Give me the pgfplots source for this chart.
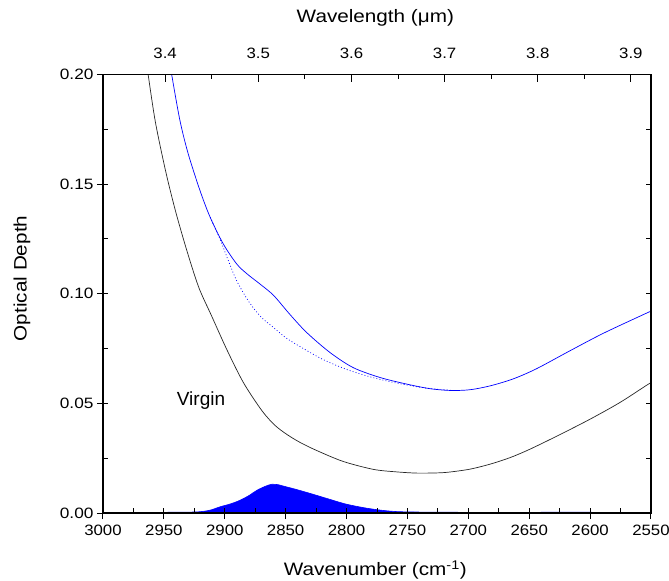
\documentclass[border=0pt]{standalone}
\usepackage{graphicx}
\usepackage{pgfplots}
\pgfplotsset{compat=1.18}
\usepackage{fontspec}
\setmainfont{Liberation Sans}
\newcommand{\tickfont}{\fontsize{15bp}{18bp}\selectfont}
\newcommand{\labfont}{\fontsize{18bp}{21bp}\selectfont}

\pgfplotstableread{
w v
2966 0.212
2962.8 0.1995
2956.9 0.1781
2948.3 0.1553
2940.1 0.1370
2930.6 0.1187
2921.2 0.1027
2910.9 0.0900
2898.2 0.0744
2884.6 0.0594
2869.4 0.0466
2858.8 0.0400
2848.9 0.0358
2838.2 0.0322
2824.5 0.0285
2802.7 0.0235
2778 0.0199
2760 0.0188
2742.4 0.0182
2725 0.0183
2715 0.0187
2698.6 0.0200
2682 0.0223
2666 0.0252
2649.4 0.0291
2625 0.0357
2600 0.0428
2575.5 0.0504
2553.5 0.0583
2550 0.0594
}\virgin

\pgfplotstableread{
w v
2947 0.212
2943.6 0.200
2936.8 0.179
2930 0.1638
2920.3 0.147
2912 0.1349
2901.2 0.1227
2890.2 0.1136
2882 0.1092
2871 0.1044
2860 0.0993
2846.4 0.0905
2832.7 0.0823
2813.6 0.0732
2794.5 0.0663
2772.5 0.0618
2750.6 0.0588
2731.5 0.0567
2715 0.0559
2699 0.0562
2682 0.0580
2663 0.0612
2644 0.0658
2616.5 0.0740
2589 0.0820
2553.5 0.0912
2550 0.0920
}\treated

\pgfplotstableread{
w v
2912 0.1349
2904 0.1250
2897 0.1150
2890 0.1057
2880 0.0962
2870 0.0893
2860 0.0846
2850 0.0800
2840 0.0765
2820 0.0702
2800 0.0655
2780 0.0620
2760 0.0594
2740 0.0574
2725 0.0564
2712 0.0559
}\baseline

\pgfplotstableread{
w v
2950 0.0000
2945 0.0004
2930 0.0004
2920 0.0006
2912 0.0013
2904 0.0028
2895 0.0042
2887.5 0.0058
2880 0.0080
2873.8 0.0103
2867 0.0121
2861.5 0.0131
2856 0.0129
2852 0.0123
2841 0.0107
2827.3 0.0085
2813.6 0.0062
2800 0.0040
2783.5 0.0022
2767 0.0010
2750 0.0005
2700 0.0003
2650 0.0003
2602 0.0004
2600 0.0000
}\band

\begin{document}
\begin{tikzpicture}
\begin{axis}[
  scale only axis, width=548bp, height=438.5bp,
  x dir=reverse, xmin=2550, xmax=3000, ymin=0, ymax=0.2,
  xtick={2550,2600,...,3000}, ytick={0,0.05,0.1,0.15,0.2},
  xtick pos=bottom, ytick pos=left,
  tick align=outside, major tick length=6bp,
  tick style={black, line width=1bp},
  axis line style={line width=1.2bp},
  /pgf/number format/assume math mode=true,
  tick label style={font=\tickfont},
  xticklabel style={yshift=-3bp},
  xticklabel={\scalebox{1.12}[1]{\pgfmathprintnumber[fixed,precision=0,set thousands separator={}]{\tick}}},
  yticklabel={\scalebox{1.15}[1]{\pgfmathprintnumber[fixed,fixed zerofill,precision=2]{\tick}}},
  xlabel={\scalebox{1.15}[1]{Wavenumber (cm\textsuperscript{-1})}},
  ylabel={\scalebox{1.15}[1]{Optical Depth}},
  label style={font=\labfont},
  xlabel style={at={(axis description cs:0.497,-0.13)}, anchor=center},
  ylabel style={at={(axis description cs:-0.148,0.535)}, anchor=center},
  clip=true,
]
\coordinate (sw) at (axis description cs:0,0);
\addplot[blue, fill=blue, line width=0.6bp, smooth] table[x=w,y=v]{\band} \closedcycle;
\addplot[black!85, line width=0.7bp, smooth] table[x=w,y=v]{\virgin};
\addplot[blue, line width=0.7bp, smooth, dash pattern=on 0.9bp off 2.2bp] table[x=w,y=v]{\baseline};
\addplot[blue, line width=0.7bp, smooth] table[x=w,y=v]{\treated};
\node[font=\fontsize{19bp}{22bp}\selectfont] at (axis cs:2919.5,0.0511) {Virgin};
\end{axis}
% inside ticks: bottom, left and right
\begin{axis}[
  scale only axis, width=548bp, height=438.5bp,
  xmin=2550, xmax=3000, ymin=0, ymax=0.2,
  xtick={2550,2575,...,3000}, ytick={0,0.025,...,0.2},
  xtick pos=bottom, ytick pos=both,
  tick align=inside, major tick length=5bp,
  tick style={black, line width=1bp},
  axis line style={line width=1.2bp},
  xticklabels={}, yticklabels={},
]
\end{axis}
% top wavelength axis
\begin{axis}[
  scale only axis, width=548bp, height=438.5bp,
  xmin=3.333333, xmax=3.921569, ymin=0, ymax=0.2,
  xtick={3.4,3.5,3.6,3.7,3.8,3.9}, minor x tick num=1,
  ytick=\empty,
  xtick pos=top, xticklabel pos=top,
  tick align=inside, major tick length=8bp, minor tick length=5bp,
  tick style={black, line width=1bp},
  axis line style={line width=1.2bp},
  /pgf/number format/assume math mode=true,
  tick label style={font=\tickfont},
  xticklabel style={yshift=12bp},
  xticklabel={\scalebox{1.12}[1]{\pgfmathprintnumber[fixed,fixed zerofill,precision=1]{\tick}}},
  xlabel={\scalebox{1.15}[1]{Wavelength (μm)}},
  label style={font=\labfont},
  xlabel style={at={(axis description cs:0.497,1.129)}, anchor=center},
]
\end{axis}
\pgfresetboundingbox
\path[use as bounding box] (sw) ++(-103bp,-68bp) rectangle ++(669bp,581bp);
\end{tikzpicture}
\end{document}
